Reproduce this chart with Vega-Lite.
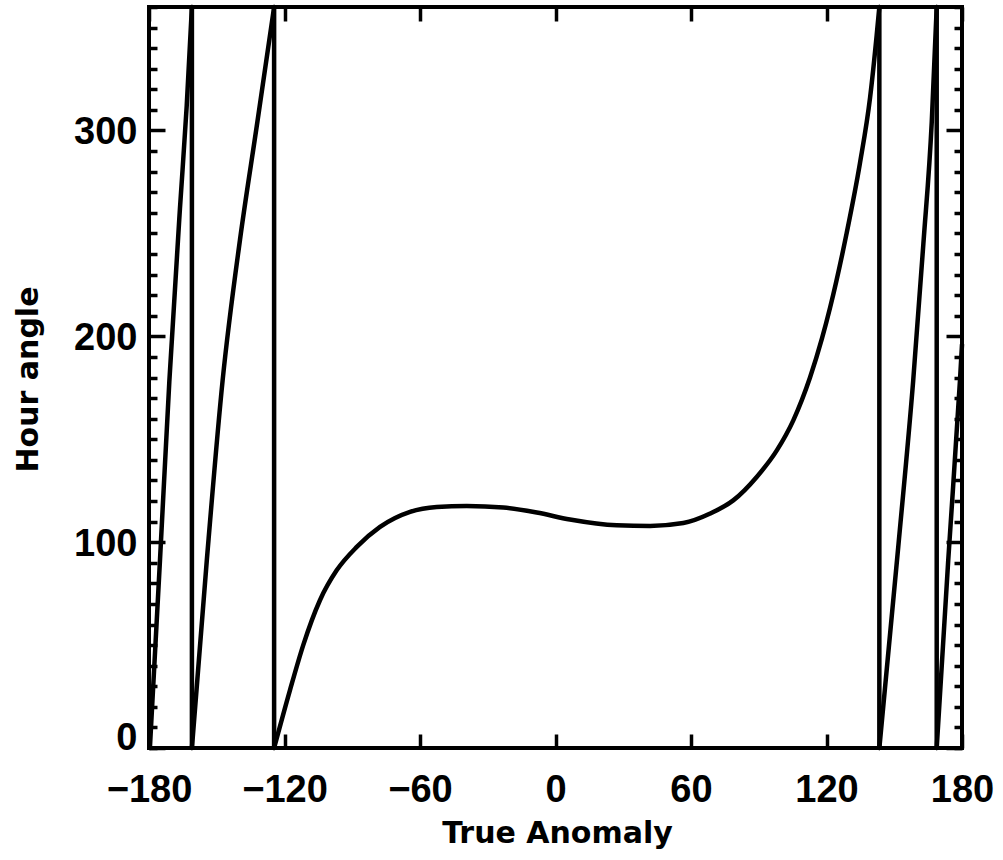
{
  "$schema": "https://vega.github.io/schema/vega-lite/v6.json",
  "width": 813,
  "height": 741,
  "autosize": {"type": "none"},
  "padding": {"left": 149, "top": 7, "right": 41, "bottom": 112},
  "background": "white",
  "config": {
    "view": {"stroke": "black", "strokeWidth": 4},
    "axis": {"domain": false, "grid": false, "tickColor": "black", "tickWidth": 3.5, "labelColor": "black", "titleColor": "black", "labelFlush": false, "labelOverlap": false}
  },
  "data": {"values": [
    {"nu": -179.6, "ha": 0, "seg": "s1"},
    {"nu": -175.1, "ha": 92, "seg": "s1"},
    {"nu": -171.0, "ha": 178, "seg": "s1"},
    {"nu": -166.3, "ha": 262, "seg": "s1"},
    {"nu": -163.3, "ha": 312, "seg": "s1"},
    {"nu": -161.0, "ha": 360, "seg": "s1"},
    {"nu": -161.0, "ha": 360, "seg": "v1"},
    {"nu": -161.0, "ha": 0, "seg": "v1"},
    {"nu": -161.0, "ha": 0, "seg": "s2"},
    {"nu": -154.4, "ha": 91.2, "seg": "s2"},
    {"nu": -147.4, "ha": 178.6, "seg": "s2"},
    {"nu": -139.7, "ha": 247, "seg": "s2"},
    {"nu": -132.3, "ha": 302, "seg": "s2"},
    {"nu": -124.6, "ha": 360, "seg": "s2"},
    {"nu": -124.6, "ha": 360, "seg": "v2"},
    {"nu": -124.6, "ha": 0, "seg": "v2"},
    {"nu": -124.6, "ha": 0, "seg": "s3"},
    {"nu": -117.6, "ha": 28, "seg": "s3"},
    {"nu": -111.7, "ha": 50, "seg": "s3"},
    {"nu": -104.3, "ha": 71.8, "seg": "s3"},
    {"nu": -96.9, "ha": 86.3, "seg": "s3"},
    {"nu": -88.0, "ha": 97.7, "seg": "s3"},
    {"nu": -77.7, "ha": 107.4, "seg": "s3"},
    {"nu": -64.4, "ha": 114.7, "seg": "s3"},
    {"nu": -52.6, "ha": 117.1, "seg": "s3"},
    {"nu": -39.3, "ha": 117.6, "seg": "s3"},
    {"nu": -23.1, "ha": 116.8, "seg": "s3"},
    {"nu": -8.3, "ha": 114.4, "seg": "s3"},
    {"nu": 6.4, "ha": 111.0, "seg": "s3"},
    {"nu": 27.1, "ha": 108.2, "seg": "s3"},
    {"nu": 41.9, "ha": 107.9, "seg": "s3"},
    {"nu": 56.6, "ha": 109.3, "seg": "s3"},
    {"nu": 68.5, "ha": 113.9, "seg": "s3"},
    {"nu": 78.7, "ha": 120.3, "seg": "s3"},
    {"nu": 89.1, "ha": 131.7, "seg": "s3"},
    {"nu": 98.0, "ha": 144.6, "seg": "s3"},
    {"nu": 105.3, "ha": 159.2, "seg": "s3"},
    {"nu": 112.7, "ha": 180, "seg": "s3"},
    {"nu": 118.0, "ha": 199, "seg": "s3"},
    {"nu": 121.6, "ha": 214, "seg": "s3"},
    {"nu": 128.9, "ha": 250, "seg": "s3"},
    {"nu": 134.8, "ha": 284, "seg": "s3"},
    {"nu": 139.3, "ha": 316, "seg": "s3"},
    {"nu": 142.2, "ha": 346, "seg": "s3"},
    {"nu": 143.4, "ha": 360, "seg": "s3"},
    {"nu": 143.4, "ha": 360, "seg": "v3"},
    {"nu": 143.4, "ha": 0, "seg": "v3"},
    {"nu": 143.4, "ha": 0, "seg": "s4"},
    {"nu": 151.8, "ha": 98, "seg": "s4"},
    {"nu": 158.4, "ha": 178.6, "seg": "s4"},
    {"nu": 162.9, "ha": 245, "seg": "s4"},
    {"nu": 166.6, "ha": 304, "seg": "s4"},
    {"nu": 168.8, "ha": 360, "seg": "s4"},
    {"nu": 168.8, "ha": 360, "seg": "v4"},
    {"nu": 168.8, "ha": 0, "seg": "v4"},
    {"nu": 168.8, "ha": 0, "seg": "s5"},
    {"nu": 173.9, "ha": 91.2, "seg": "s5"},
    {"nu": 179.1, "ha": 178.6, "seg": "s5"},
    {"nu": 180.0, "ha": 196, "seg": "s5"}
  ]},
  "layer": [
    {
      "mark": {"type": "line", "color": "black", "strokeWidth": 4.5, "interpolate": "monotone", "strokeCap": "round", "strokeJoin": "round", "clip": false},
      "encoding": {
        "x": {"field": "nu", "type": "quantitative",
          "scale": {"domain": [-180, 180], "nice": false, "zero": false},
          "axis": {"orient": "bottom", "values": [-180, -120, -60, 0, 60, 120, 180], "tickSize": -14, "labelPadding": 37,
            "labelFont": "Liberation Sans", "labelFontSize": 38, "labelFontWeight": "bold",
            "title": "True Anomaly", "titleFont": "DejaVu Sans", "titleFontSize": 30, "titleFontWeight": "bold",
            "titleX": 408, "titleY": 94, "titleBaseline": "alphabetic", "titleAlign": "center"}},
        "y": {"field": "ha", "type": "quantitative",
          "scale": {"domain": [0, 360], "nice": false, "zero": false},
          "axis": {"orient": "left", "values": [0, 100, 200, 300], "tickSize": -16, "labelPadding": 28,
            "labelOffset": {"condition": {"test": "datum.value == 0", "value": -10}, "value": 2},
            "labelFont": "Liberation Sans", "labelFontSize": 38, "labelFontWeight": "bold",
            "title": "Hour angle", "titleFont": "DejaVu Sans", "titleFontSize": 30, "titleFontWeight": "bold",
            "titleX": -112, "titleY": 372, "titleAngle": 270, "titleBaseline": "alphabetic", "titleAlign": "center"}},
        "detail": {"field": "seg", "type": "nominal"}
      }
    },
    {
      "mark": {"type": "point", "opacity": 0},
      "encoding": {
        "x": {"field": "nu", "type": "quantitative",
          "axis": {"orient": "top", "values": [-180, -120, -60, 0, 60, 120, 180], "tickSize": -14, "labels": false, "title": null}},
        "y": {"field": "ha", "type": "quantitative",
          "axis": {"orient": "right", "values": [0, 100, 200, 300], "tickSize": -16, "labels": false, "title": null}}
      }
    },
    {
      "mark": {"type": "point", "opacity": 0},
      "encoding": {
        "x": {"field": "nu", "type": "quantitative", "axis": null},
        "y": {"field": "ha", "type": "quantitative",
          "axis": {"orient": "left", "values": [0,10,20,30,40,50,60,70,80,90,110,120,130,140,150,160,170,180,190,210,220,230,240,250,260,270,280,290,310,320,330,340,350,360], "tickSize": -8, "labels": false, "title": null}}
      }
    },
    {
      "mark": {"type": "point", "opacity": 0},
      "encoding": {
        "x": {"field": "nu", "type": "quantitative", "axis": null},
        "y": {"field": "ha", "type": "quantitative",
          "axis": {"orient": "right", "values": [0,10,20,30,40,50,60,70,80,90,110,120,130,140,150,160,170,180,190,210,220,230,240,250,260,270,280,290,310,320,330,340,350,360], "tickSize": -8, "labels": false, "title": null}}
      }
    }
  ],
  "resolve": {"axis": {"x": "independent", "y": "independent"}}
}
